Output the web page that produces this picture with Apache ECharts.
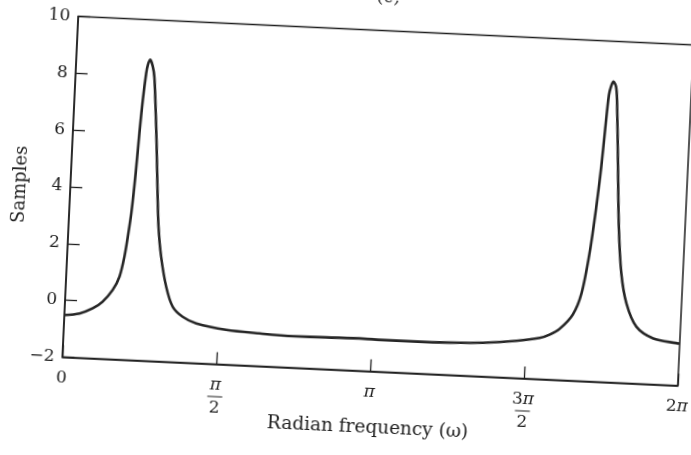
<!DOCTYPE html>
<html>
<head>
<meta charset="utf-8">
<script src="https://cdn.jsdelivr.net/npm/echarts@6/dist/echarts.min.js"></script>
<style>
  html, body { margin: 0; padding: 0; background: #ffffff; overflow: hidden; width: 691px; height: 455px; }
  #chart {
    position: absolute; left: 0; top: 0;
    width: 740px; height: 480px;
    /* the printed figure sits slightly tilted on the page */
    transform: rotate(2.66deg);
    transform-origin: 378px 201px;
  }
</style>
</head>
<body>
<div id="chart"></div>
<script>
// Radian frequency in units of pi (0 .. 2)
const omegaOverPi = [
  0.000, 0.049, 0.091, 0.122, 0.153, 0.173, 0.186, 0.194, 0.202, 0.210,
  0.216, 0.222, 0.229, 0.233, 0.240, 0.249, 0.256, 0.264, 0.273, 0.284,
  0.292, 0.305, 0.326, 0.350, 0.384, 0.429, 0.527, 0.636, 0.744, 0.853,
  0.961, 1.037, 1.145, 1.254, 1.362, 1.470, 1.545, 1.576, 1.608, 1.649,
  1.674, 1.694, 1.709, 1.719, 1.726, 1.733, 1.739, 1.746, 1.755, 1.760,
  1.772, 1.785, 1.800, 1.821, 1.857, 1.913, 1.989, 2.000
];

// Spectrum samples at those frequencies
const samples = [
  -0.52, -0.44, -0.24, 0.01, 0.44, 0.92, 1.63, 2.34, 3.20, 4.60,
  6.00, 7.16, 8.11, 8.40, 8.60, 8.38, 8.00, 7.00, 5.70, 3.90,
  2.75, 1.69, 0.64, -0.05, -0.39, -0.60, -0.78, -0.85, -0.89, -0.88,
  -0.86, -0.88, -0.88, -0.86, -0.81, -0.69, -0.55, -0.42, -0.20, 0.33,
  1.09, 2.51, 4.16, 5.57, 6.90, 8.10, 8.42, 8.58, 8.40, 7.94,
  5.83, 3.49, 1.86, 0.81, 0.00, -0.38, -0.51, -0.52
];

// Tick labels
const yTickValues = [-2, 0, 2, 4, 6, 8, 10];
const yTickLabels = ['\u22122', '0', '2', '4', '6', '8', '10'];
const xTickNumerators = ['0', '\u03c0', '\u03c0', '3\u03c0', '2\u03c0'];
const xTickDenominators = ['', '2', '', '2', ''];

const INK = '#1e1e1e';
const SERIF = '"DejaVu Serif", "Liberation Serif", serif';

function richNumerator(s) {
  // digits upright, pi italic
  return s.split('').map(ch => ch === '\u03c0' ? '{pi|\u03c0}' : '{num|' + ch + '}').join('');
}

function xLabel(value) {
  const i = Math.round(value / 0.5);
  const num = richNumerator(xTickNumerators[i]);
  const den = xTickDenominators[i];
  return den ? num + '\n{bar| }\n{den|' + den + '}' : num;
}

function yLabel(value) {
  const i = yTickValues.indexOf(Math.round(value));
  return i >= 0 ? yTickLabels[i] : '';
}

const chart = echarts.init(document.getElementById('chart'), null, { renderer: 'canvas' });

chart.setOption({
  backgroundColor: '#ffffff',
  animation: false,
  title: {
    text: '(c)',
    left: 374,
    textAlign: 'center',
    top: -17,
    textStyle: { fontFamily: SERIF, fontSize: 18, fontWeight: 'normal', color: INK }
  },
  grid: {
    left: 70, right: 54, top: 30.5, bottom: 108.5,
    outerBoundsMode: 'none',
    containLabel: false,
    show: true, borderColor: INK, borderWidth: 1.5, backgroundColor: 'transparent'
  },
  xAxis: {
    type: 'value',
    min: 0, max: 2, interval: 0.5,
    name: 'Radian frequency (\u03c9)',
    nameLocation: 'middle',
    nameGap: 47,
    nameMoveOverlap: false,
    nameTextStyle: { fontFamily: SERIF, fontSize: 18.5, color: INK, verticalAlign: 'top' },
    axisLine: { show: true, onZero: false, lineStyle: { color: INK, width: 1.5 } },
    axisTick: { show: true, inside: true, length: 12, lineStyle: { color: INK, width: 1.3 } },
    splitLine: { show: false },
    axisLabel: {
      margin: 12,
      showMinLabel: true, showMaxLabel: true, hideOverlap: false,
      formatter: xLabel,
      verticalAlign: 'top',
      rich: {
        num: { fontFamily: SERIF, fontSize: 17, color: INK, lineHeight: 18 },
        pi: { fontFamily: SERIF, fontSize: 17, fontStyle: 'italic', color: INK, lineHeight: 18 },
        bar: { width: 15, height: 1, lineHeight: 5, backgroundColor: INK },
        den: { fontFamily: SERIF, fontSize: 17, color: INK, lineHeight: 18 }
      }
    }
  },
  yAxis: {
    type: 'value',
    min: -2, max: 10, interval: 2,
    name: 'Samples',
    nameLocation: 'middle',
    nameGap: 41,
    nameRotate: 90,
    nameMoveOverlap: false,
    nameTextStyle: { fontFamily: SERIF, fontSize: 18, color: INK },
    axisLine: { show: true, onZero: false, lineStyle: { color: INK, width: 1.5 } },
    axisTick: { show: true, inside: true, length: 12, lineStyle: { color: INK, width: 1.3 } },
    splitLine: { show: false },
    axisLabel: {
      margin: 8,
      formatter: yLabel,
      fontFamily: SERIF, fontSize: 17, color: INK
    }
  },
  series: [{
    type: 'line',
    data: omegaOverPi.map((w, i) => [w, samples[i]]),
    showSymbol: false,
    smooth: 0.3,
    lineStyle: { color: '#262626', width: 2.6 },
    clip: false
  }]
});
</script>
</body>
</html>
